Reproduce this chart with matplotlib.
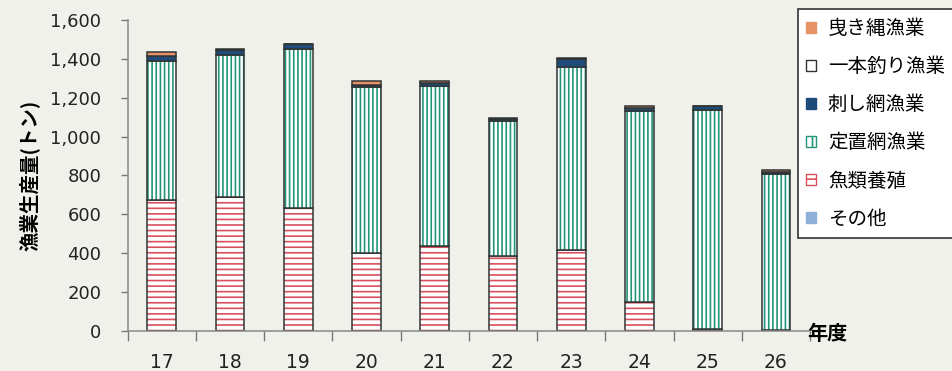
"""Stacked bar chart of fishery production by method (tons)."""

import matplotlib

matplotlib.use("Agg")
import matplotlib.pyplot as plt
import numpy as np
from matplotlib.patches import Patch

plt.rcParams["font.family"] = ["Noto Sans CJK JP", "DejaVu Sans"]
plt.rcParams["hatch.linewidth"] = 1.2

years = ["17", "18", "19", "20", "21", "22", "23", "24", "25", "26"]
sonota = [0, 0, 0, 0, 0, 0, 0, 0, 0, 0]
yoshoku = [674, 689, 632, 401, 437, 386, 416, 149, 8, 3]
teichi = [714, 730, 818, 853, 822, 694, 941, 982, 1128, 804]
sashiami = [25, 25, 25, 12, 18, 10, 45, 15, 20, 10]
ipponzuri = [0, 0, 0, 0, 0, 0, 0, 0, 0, 0]
hikinawa = [20, 5, 3, 20, 8, 5, 3, 12, 3, 10]

# (label, values, face, hatch, hatch colour) from bottom to top
series = [
    ("その他", sonota, "#8fb0d8", None, None),
    ("魚類養殖", yoshoku, "white", "---", "#d9505e"),
    ("定置網漁業", teichi, "white", "||||", "#23957a"),
    ("刺し網漁業", sashiami, "#1f4b7a", None, None),
    ("一本釣り漁業", ipponzuri, "white", None, None),
    ("曳き縄漁業", hikinawa, "#e8926a", None, None),
]

bg = "#f1f1ec"
edge = "#2f3433"
fig = plt.figure(figsize=(9.53, 3.71), dpi=100, facecolor=bg)
ax = fig.add_axes([0.134, 0.108, 0.716, 0.838], facecolor=bg)

x = np.arange(len(years))
width = 0.42
bottom = np.zeros(len(years))
for label, vals, face, hatch, hcol in series:
    vals = np.array(vals, dtype=float)
    if hatch:
        ax.bar(x, vals, width, bottom=bottom, color=face, hatch=hatch,
               edgecolor=hcol, linewidth=0)
    else:
        ax.bar(x, vals, width, bottom=bottom, color=face, linewidth=0)
    mask = vals > 0
    ax.bar(x[mask], vals[mask], width, bottom=bottom[mask], fill=False,
           edgecolor=edge, linewidth=1.1)
    bottom += vals

ax.set_xlim(-0.5, len(years) - 0.5)
ax.set_ylim(0, 1600)
ax.set_yticks(range(0, 1601, 200))
ax.set_yticklabels([f"{v:,}" for v in range(0, 1601, 200)],
                   fontsize=13, family="DejaVu Sans", color="#222")
ax.set_xticks(x)
ax.set_xticklabels(years, fontsize=13.5, family="DejaVu Sans", color="#222")
ax.set_xticks(np.arange(-0.5, len(years), 1.0), minor=True)
ax.tick_params(axis="x", which="major", length=0, pad=16)
ax.tick_params(axis="x", which="minor", length=7, width=1, color="#777",
               direction="out")
ax.tick_params(axis="y", length=5, width=1, color="#777", pad=14)

for s in ("top", "right"):
    ax.spines[s].set_visible(False)
for s in ("left", "bottom"):
    ax.spines[s].set_color("#888")
    ax.spines[s].set_linewidth(1.1)

ax.set_ylabel("漁業生産量(トン)", fontsize=14, fontweight="bold", labelpad=8)
fig.text(0.847, 0.102, "年度", fontsize=14.5, fontweight="bold", ha="left",
         va="center")

handles = []
for label, vals, face, hatch, hcol in series[::-1]:
    if hatch:
        handles.append(Patch(facecolor=face, hatch=hatch[:2], edgecolor=hcol,
                             label=label))
    elif face == "white":
        handles.append(Patch(facecolor=face, edgecolor=edge, label=label))
    else:
        handles.append(Patch(facecolor=face, edgecolor=face, label=label))

leg = fig.legend(handles=handles, loc="upper left",
                 bbox_to_anchor=(0.837, 0.975), fontsize=14,
                 frameon=True, fancybox=False, edgecolor="#333",
                 facecolor="white", framealpha=1, handlelength=0.5,
                 handleheight=0.5, handletextpad=0.6, labelspacing=0.88,
                 borderpad=0.45, borderaxespad=0)
leg.get_frame().set_linewidth(1.2)

fig.savefig("out.png", dpi=100, facecolor=bg)
